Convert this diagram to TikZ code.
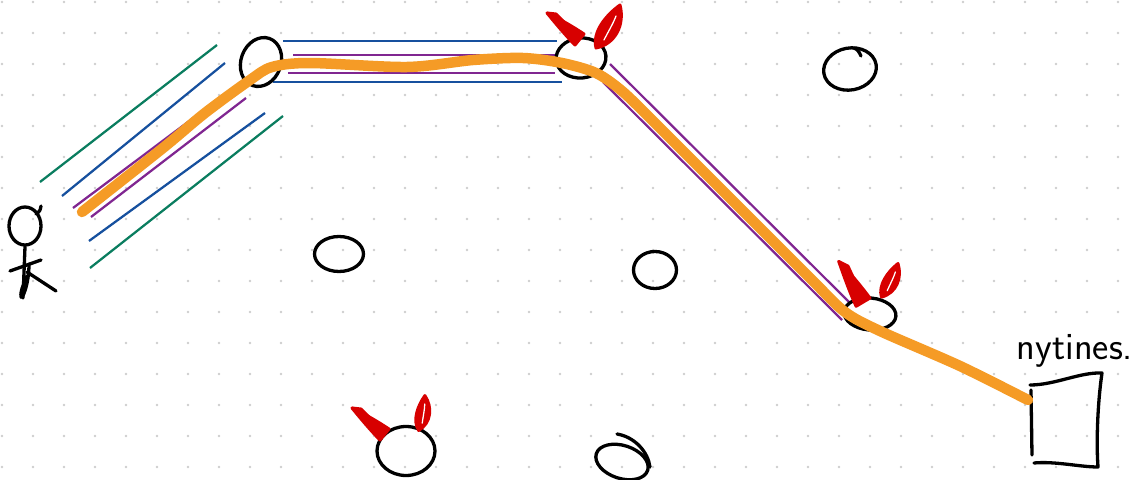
\documentclass[tikz,border=0pt]{standalone}
\usetikzlibrary{shapes,calc,positioning}
\definecolor{dotgray}{RGB}{205,205,205}
\definecolor{pathorange}{RGB}{245,155,38}
\definecolor{lanegreen}{RGB}{10,125,95}
\definecolor{laneblue}{RGB}{22,80,158}
\definecolor{lanepurple}{RGB}{128,38,145}
\definecolor{hornred}{RGB}{215,0,0}
\tikzset{
    ink/.style = {draw=black, line width=0.066cm},
    blob/.style 2 args = {ellipse, ink, inner sep=0, minimum width=#1*0.02cm, minimum height=#2*0.02cm},
    lane/.style = {line width=0.045cm, line cap=butt},
    route/.style = {draw=pathorange, line width=0.21cm},
    horn/.style = {draw=hornred, fill=hornred, line width=0.06cm},
    hornl/.pic = {
        \filldraw[horn] (6,-4) .. controls (-6,-12) and (-20,-20) .. (-31,-25) .. controls (-22,-14) and (-12,-2) .. (-3,7) -- cycle;
        \draw[horn] (-31,-25) -- (-22,-24) -- (-12,-14);},
    hornr/.pic = {
        \filldraw[horn] (-2,0) .. controls (18,-4) and (27,-24) .. (22,-43) .. controls (8,-33) and (-6,-16) .. (-2,0) -- cycle;
        \draw[white, line width=0.025cm] (6,-8) .. controls (10,-16) and (15,-24) .. (18,-32);}
}

\begin{document}
\begin{tikzpicture}[x=0.02cm, y=-0.02cm, line cap=round, line join=round]
    \tikzstyle{dot}=[fill=dotgray]
    \useasboundingbox (0,0) rectangle (1144,480);
    \foreach \i in {0,...,36}
        \foreach \j in {0,...,15}
            \fill[dot] (2+31*\i, 2+31*\j) circle (0.026cm);

    \draw[lane, lanegreen] (40,182) -- (217,45);
    \draw[lane, laneblue] (62,196) -- (225,63);
    \draw[lane, lanepurple] (73,208) -- (240,83);
    \draw[lane, lanepurple] (91,217) -- (246,98);
    \draw[lane, laneblue] (89,241) -- (265,113);
    \draw[lane, lanegreen] (90,268) -- (283,116);
    \draw[lane, laneblue] (283,41) -- (557,41);
    \draw[lane, lanepurple] (293,55) -- (557,55);
    \draw[lane, lanepurple] (288,73) -- (555,73);
    \draw[lane, laneblue] (273,82) -- (562,82);
    \draw[lane, lanepurple] (610,64) -- (850,303);
    \draw[lane, lanepurple] (603,82) -- (842,320);

    \node[blob={32}{38}] (0) at (25,226) {};
    \draw[ink] (36,214) .. controls (40,211) .. (41,206);
    \draw[ink] (0.south) -- (23,298);
    \draw[ink] (10,271) -- (41,260);
    \draw[ink] (27,272) -- (56,291);
    \draw[ink] (29,264) .. controls (29,285) and (22,300) .. (21,297) .. controls (20,290) and (25,282) .. (27,276);

    \node[blob={40}{50}, rotate=-20] (1) at (261,62) {};
    \node[blob={50}{40}, rotate=5] (2) at (581,58) {};
    \node[blob={53}{42}, rotate=10] (3) at (850,69) {};
    \draw[ink] (854,48) .. controls (858,50) .. (861,56);
    \node[blob={49}{35}] (4) at (339,254) {};
    \node[blob={43}{37}] (5) at (655,270) {};
    \node[blob={52}{32}, rotate=-5] (6) at (870,314) {};
    \node[blob={58}{49}] (7) at (406,451) {};
    \node[blob={54}{33}, rotate=-18] (8) at (622,462) {};
    \draw[ink] (617,434) .. controls (635,437) and (648,452) .. (650,467);

    \draw[ink] (1030,385) .. controls (1055,385) and (1080,372) .. (1102,373) .. controls (1098,400) and (1096,440) .. (1098,467) .. controls (1080,467) and (1055,461) .. (1034,463);
    \draw[ink] (1031,390) -- (1032,455);
    \node[font=\sffamily\fontsize{22}{26}\selectfont] (9) at (1075,351) {nytines.};

    \coordinate (go) at (82,212);
    \coordinate (door) at (1028,400);
    \draw[route] plot[smooth, tension=0.5] coordinates {(go) (163,148) (205,113) (250,80) (272,67) (310,63) (407,67) (473,60) (523,58) (562,63) (596,73) (622,91) (650,118) (683,151) (747,215) (812,280) (845,312) (880,331) (960,366) (door)};

    \pic at (578,38) {hornl};
    \pic at (598,48) {hornr};
    \pic[rotate=-20, scale=1.13] at (862,300) {hornl};
    \pic[rotate=3, scale=0.76] at (883,297) {hornr};
    \pic at (383,433) {hornl};
    \pic[rotate=19, scale=0.72] at (420,430) {hornr};
\end{tikzpicture}
\end{document}
